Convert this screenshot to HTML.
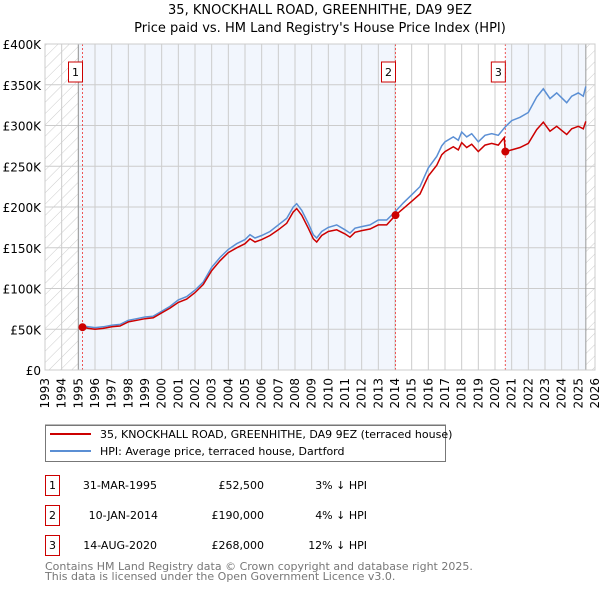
<!DOCTYPE html>
<html><head><meta charset="utf-8"><style>
body{margin:0;background:#fff;font-family:"Liberation Sans","DejaVu Sans",sans-serif}
svg text{font-family:"DejaVu Sans","Liberation Sans",sans-serif}
</style></head><body>
<svg id="c" width="600" height="590" xmlns="http://www.w3.org/2000/svg">
<defs><pattern id="h" width="8" height="8" patternUnits="userSpaceOnUse" patternTransform="rotate(45)"><line x1="0" y1="0" x2="0" y2="8" stroke="#ccc" stroke-width="1"/></pattern></defs>
<text x="320" y="14" font-size="13" text-anchor="middle">35, KNOCKHALL ROAD, GREENHITHE, DA9 9EZ</text>
<text x="320" y="32" font-size="13" text-anchor="middle">Price paid vs. HM Land Registry's House Price Index (HPI)</text>
<g id="plot"></g>
<line x1="45" y1="425" x2="446" y2="425" stroke="#777"/>
<rect x="45.5" y="425.5" width="400" height="36" fill="#fff" stroke="#777"/>
<line x1="50" y1="434" x2="91" y2="434" stroke="#cc0000" stroke-width="2"/>
<text x="100" y="438" font-size="11">35, KNOCKHALL ROAD, GREENHITHE, DA9 9EZ (terraced house)</text>
<line x1="50" y1="451" x2="91" y2="451" stroke="#5b8fd4" stroke-width="2"/>
<text x="100" y="455" font-size="11">HPI: Average price, terraced house, Dartford</text>
<g font-size="11">
<rect x="45.5" y="475.5" width="14" height="20" fill="none" stroke="#cc0000"/><text x="52.5" y="489" text-anchor="middle">1</text>
<text x="157" y="489" text-anchor="end">31-MAR-1995</text><text x="264" y="489" text-anchor="end">£52,500</text><text x="367" y="489" text-anchor="end">3% ↓ HPI</text>
<rect x="45.5" y="505.5" width="14" height="20" fill="none" stroke="#cc0000"/><text x="52.5" y="519" text-anchor="middle">2</text>
<text x="158" y="519" text-anchor="end">10-JAN-2014</text><text x="264" y="519" text-anchor="end">£190,000</text><text x="367" y="519" text-anchor="end">4% ↓ HPI</text>
<rect x="45.5" y="535.5" width="14" height="20" fill="none" stroke="#cc0000"/><text x="52.5" y="549" text-anchor="middle">3</text>
<text x="157" y="549" text-anchor="end">14-AUG-2020</text><text x="264" y="549" text-anchor="end">£268,000</text><text x="367" y="549" text-anchor="end">12% ↓ HPI</text>
</g>
<text x="45" y="570" font-size="11" fill="#777">Contains HM Land Registry data © Crown copyright and database right 2025.</text>
<text x="45" y="580" font-size="11" fill="#777">This data is licensed under the Open Government Licence v3.0.</text>
</svg>
<script>
const hpiDates=[1995.25,1995.6,1996,1996.5,1997,1997.5,1998,1998.5,1999,1999.5,2000,2000.5,2001,2001.5,2002,2002.5,2003,2003.5,2004,2004.5,2005,2005.3,2005.6,2006,2006.5,2007,2007.5,2007.9,2008.1,2008.4,2008.8,2009.1,2009.3,2009.6,2010,2010.5,2011,2011.3,2011.6,2012,2012.5,2013,2013.5,2014,2014.5,2015,2015.5,2016,2016.5,2016.8,2017,2017.5,2017.8,2018,2018.3,2018.6,2019,2019.4,2019.8,2020.2,2020.6,2021,2021.5,2022,2022.5,2022.9,2023.3,2023.7,2024,2024.3,2024.6,2025,2025.3,2025.45];
const hpiValues=[54,53,52,53,55,56,61,63,65,66,72,78,86,90,98,108,126,138,148,155,160,166,162,165,170,178,186,200,204,196,180,166,162,170,175,178,172,168,174,176,178,184,184,194,205,215,225,248,262,275,280,286,282,292,286,290,280,288,290,288,298,306,310,316,335,345,333,340,334,328,336,340,336,348];
const priceDates=[1995.25,1995.6,1996,1996.5,1997,1997.5,1998,1998.5,1999,1999.5,2000,2000.5,2001,2001.5,2002,2002.5,2003,2003.5,2004,2004.5,2005,2005.3,2005.6,2006,2006.5,2007,2007.5,2007.9,2008.1,2008.4,2008.8,2009.1,2009.3,2009.6,2010,2010.5,2011,2011.3,2011.6,2012,2012.5,2013,2013.5,2014.03,2014.5,2015,2015.5,2016,2016.5,2016.8,2017,2017.5,2017.8,2018,2018.3,2018.6,2019,2019.4,2019.8,2020.2,2020.55,2020.62,2021,2021.5,2022,2022.5,2022.9,2023.3,2023.7,2024,2024.3,2024.6,2025,2025.3,2025.45];
const priceValues=[52.5,51,50,51,53,54,59,61,63,64,70,76,83,87,95,105,122,134,144,150,155,161,157,160,165,172,180,194,198,190,174,161,157,165,170,172,167,163,169,171,173,178,178,190,198,207,216,238,251,264,268,274,270,279,273,277,268,276,278,276,285,268,270,273,278,295,304,293,299,294,289,296,299,296,305];
const saleLabels=["1","2","3"];
const saleDates=[1995.25,2014.03,2020.62];
const salePrices=[52.5,190,268];
const yTicks=[0,50,100,150,200,250,300,350,400];
const yTickLabels=["£0","£50K","£100K","£150K","£200K","£250K","£300K","£350K","£400K"];
const xTicks=[];for(let y=1993;y<=2026;y++)xTicks.push(y);
const X0=45,X1=595,Y0=370,Y1=44;
const xs=t=>X0+(t-1993)/(2026-1993)*(X1-X0);
const ys=v=>Y0-v/400*(Y0-Y1);
const NS="http://www.w3.org/2000/svg";
const g=document.getElementById('plot');
function mk(tag,at,parent){const e=document.createElementNS(NS,tag);for(const k in at)e.setAttribute(k,at[k]);(parent||g).appendChild(e);return e;}
let e;
e=mk('rect',{x:X0,y:Y1,width:X1-X0,height:Y0-Y1,fill:'#fff'});
e=mk('rect',{x:X0,y:Y1,width:xs(1995)-X0,height:Y0-Y1,fill:'url(#h)'});


e=mk('rect',{x:xs(2025.45),y:Y1,width:X1-xs(2025.45),height:Y0-Y1,fill:'url(#h)'});


e=mk('rect',{x:xs(1995),y:Y1,width:xs(2014.03)-xs(1995),height:Y0-Y1,fill:'#f2f6fd'});


e=mk('rect',{x:xs(2020.62),y:Y1,width:xs(2025.45)-xs(2020.62),height:Y0-Y1,fill:'#f2f6fd'});


xTicks.forEach(t=>{mk('line',{x1:xs(t),x2:xs(t),y1:Y1,y2:Y0,stroke:'#ccc','stroke-width':1});
 const tx=mk('text',{x:0,y:0,'font-size':12,'text-anchor':'end',transform:`translate(${xs(t)+4},${Y0+8}) rotate(-90)`});tx.textContent=t;
 
 });
yTicks.forEach((v,i)=>{mk('line',{x1:X0,x2:X1,y1:ys(v),y2:ys(v),stroke:'#ccc','stroke-width':1});
 const tx=mk('text',{x:X0-4,y:ys(v)+5,'font-size':12,'text-anchor':'end'});tx.textContent=yTickLabels[i];
 
 });
e=mk('line',{x1:xs(1995),x2:xs(1995),y1:Y1,y2:Y0,stroke:'#999'});
e=mk('line',{x1:xs(2025.45),x2:xs(2025.45),y1:Y1,y2:Y0,stroke:'#999'});
saleDates.forEach(d=>mk('line',{x1:xs(d),x2:xs(d),y1:Y1,y2:Y0,stroke:'#e55','stroke-dasharray':'2,2'}));
const pts=(d,v)=>d.map((t,i)=>xs(t).toFixed(1)+','+ys(v[i]).toFixed(1)).join(' ');
e=mk('polyline',{points:pts(hpiDates,hpiValues),fill:'none',stroke:'#5b8fd4','stroke-width':1.5});


e=mk('polyline',{points:pts(priceDates,priceValues),fill:'none',stroke:'#cc0000','stroke-width':1.5});


saleDates.forEach((d,i)=>{const c=mk('circle',{cx:xs(d),cy:ys(salePrices[i]),r:4,fill:'#cc0000'});
 
 
 const bx=xs(d)-9;mk('rect',{x:bx-5,y:62,width:14,height:20,fill:'#fff',stroke:'#cc0000'});
 const t=mk('text',{x:bx+2,y:76,'font-size':11,'text-anchor':'middle'});t.textContent=saleLabels[i];
 
 });
mk('rect',{x:X0,y:Y1,width:X1-X0,height:Y0-Y1,fill:'none',stroke:'#ccc'});
</script>
</body></html>
